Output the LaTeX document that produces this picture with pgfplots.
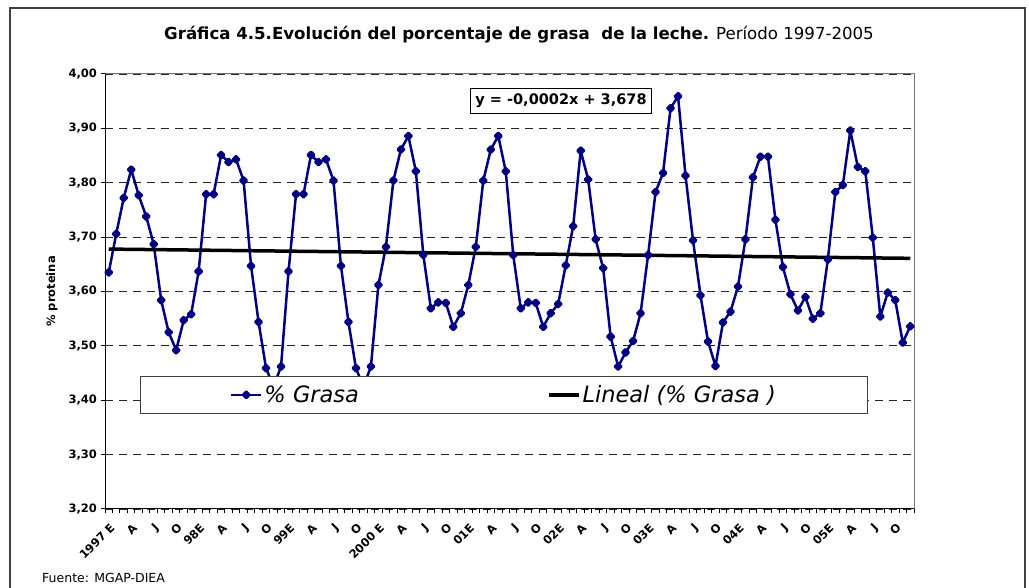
\documentclass[border=0pt]{standalone}
\usepackage{fontspec}
\setmainfont{DejaVu Sans}[ItalicFont={DejaVu Sans Oblique},BoldFont={DejaVu Sans Bold},BoldItalicFont={DejaVu Sans Bold Oblique}]
\usepackage{pgfplots}
\pgfplotsset{compat=1.18}
\definecolor{navy}{RGB}{0,0,128}
\definecolor{framegray}{RGB}{64,64,64}

\begin{document}
\begin{tikzpicture}
\useasboundingbox (0pt,0pt) rectangle (1029pt,588pt);
\draw[line width=2pt, framegray] (10pt,-3pt) -- (10pt,580pt) -- (1025pt,580pt) -- (1025pt,-3pt);
\node[font=\fontsize{16.6}{19}\selectfont] at (519pt,553pt)
  {\textbf{Gráfica 4.5.Evolución del porcentaje de grasa\ \ de la leche.} Período 1997-2005};
\node[anchor=west, inner sep=0pt, font=\fontsize{12.5}{14}\selectfont] at (42pt,10pt) {Fuente: MGAP-DIEA};

\begin{axis}[
  at={(105pt,79pt)}, anchor=south west,
  width=809pt, height=435pt, scale only axis,
  xmin=-0.5, xmax=107.5, ymin=3.2, ymax=4.0,
  ytick={3.2,3.3,3.4,3.5,3.6,3.7,3.8,3.9,4.0},
  /pgf/number format/use comma,
  /pgf/number format/fixed,
  /pgf/number format/fixed zerofill,
  /pgf/number format/precision=2,
  /pgf/number format/assume math mode=true,
  yticklabel style={font=\bfseries\fontsize{11.5}{12}\selectfont},
  xtick={-0.5,2.5,...,104.5},
  xticklabels={1997 E,A,J,O,98E,A,J,O,99E,A,J,O,2000 E,A,J,O,01E,A,J,O,02E,A,J,O,03E,A,J,O,04E,A,J,O,05E,A,J,O},
  minor xtick={-0.5,0.5,...,107.5},
  xticklabel style={rotate=45, anchor=east, yshift=-14pt, xshift=0pt, font=\bfseries\fontsize{11.5}{11.5}\selectfont},
  tick align=outside, tick pos=left,
  major tick length=4.5pt, minor tick length=4.5pt,
  tick style={black, line width=1pt},
  axis line style={draw=black!55, line width=1pt},
  ymajorgrids,
  major grid style={black!85, line width=0.8pt, dash pattern=on 8pt off 6pt},
  ylabel={\% proteina},
  every axis y label/.style={at={(axis description cs:-0.0655,0.5)}, rotate=90, anchor=center,
    font=\bfseries\fontsize{11.5}{12}\selectfont},
  legend columns=2,
  legend image code/.code={\draw[mark repeat=2,mark phase=2,#1] plot coordinates {(0pt,0pt) (15pt,0pt) (30pt,0pt)};},
  legend style={at={(0.04326,0.3057)}, anchor=north west, draw=black!75, line width=1pt, fill=white,
    inner xsep=89.5pt, inner ysep=7pt, font=\itshape\fontsize{22.5}{26}\selectfont,
    /tikz/every even column/.append style={column sep=186pt}},
]
\addplot[navy, line width=2.5pt, line join=round, mark=square*, mark size=2.3pt,
  mark options={rotate=45, solid, fill=navy}] table {
x y
0 3.635
1 3.706
2 3.772
3 3.824
4 3.777
5 3.738
6 3.687
7 3.584
8 3.525
9 3.492
10 3.547
11 3.558
12 3.637
13 3.779
14 3.779
15 3.851
16 3.838
17 3.843
18 3.804
19 3.647
20 3.544
21 3.459
22 3.425
23 3.462
24 3.637
25 3.779
26 3.779
27 3.851
28 3.838
29 3.843
30 3.804
31 3.647
32 3.544
33 3.459
34 3.425
35 3.462
36 3.612
37 3.682
38 3.804
39 3.861
40 3.886
41 3.821
42 3.667
43 3.569
44 3.580
45 3.579
46 3.535
47 3.560
48 3.612
49 3.682
50 3.804
51 3.861
52 3.886
53 3.821
54 3.667
55 3.569
56 3.580
57 3.579
58 3.535
59 3.560
60 3.577
61 3.648
62 3.720
63 3.859
64 3.806
65 3.696
66 3.643
67 3.517
68 3.462
69 3.488
70 3.509
71 3.560
72 3.667
73 3.783
74 3.818
75 3.937
76 3.959
77 3.813
78 3.694
79 3.593
80 3.508
81 3.463
82 3.543
83 3.563
84 3.609
85 3.696
86 3.810
87 3.848
88 3.848
89 3.732
90 3.645
91 3.595
92 3.565
93 3.590
94 3.550
95 3.560
96 3.659
97 3.783
98 3.796
99 3.896
100 3.829
101 3.821
102 3.699
103 3.554
104 3.598
105 3.584
106 3.506
107 3.536
};
\addlegendentry{\% Grasa}
\addplot[black, line width=3.5pt] coordinates {(0,3.678) (107,3.661)};
\addlegendentry{Lineal (\% Grasa )}
\draw[black, line width=1.2pt] (rel axis cs:0,1) -- (rel axis cs:0,0) -- (rel axis cs:1,0);
\end{axis}
\node[draw=black, line width=1pt, fill=white, inner xsep=5pt, inner ysep=6pt,
  font=\bfseries\fontsize{14.5}{14.5}\selectfont] at (561pt,487pt) {y = -0,0002x + 3,678};
\end{tikzpicture}
\end{document}
